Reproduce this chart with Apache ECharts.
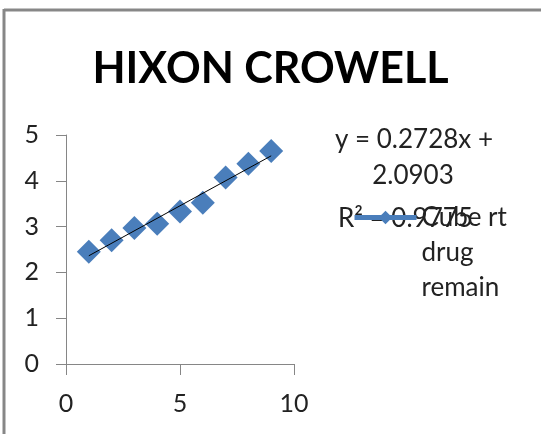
<!DOCTYPE html>
<html>
<head>
<meta charset="utf-8">
<script src="https://cdn.jsdelivr.net/npm/echarts@6/dist/echarts.min.js"></script>
<style>
  html, body { margin: 0; padding: 0; background: #fff; }
  #chart { width: 541px; height: 434px; }
</style>
</head>
<body>
<div id="chart"></div>
<script>
// Hixson-Crowell plot: cube root of drug remaining vs time
const timePoints = [1, 2, 3, 4, 5, 6, 7, 8, 9];
const cubeRootRemain = [2.45, 2.70, 2.97, 3.06, 3.33, 3.52, 4.07, 4.37, 4.65];
const seriesName = 'Cube rt drug remain';

// Linear trendline as reported on the chart
const slope = 0.2728;
const intercept = 2.0903;
const rSquared = 0.9775;
const trendRange = [1, 9];

const xTicks = [0, 5, 10];
const yTicks = [0, 1, 2, 3, 4, 5];

const FONT = 'Lato, "Open Sans", sans-serif';
const AXIS_GREY = '#868686';
const BLUE = '#4a7ebb';
const TEXT = '#222';

const chart = echarts.init(document.getElementById('chart'), null, { renderer: 'canvas' });

chart.setOption({
  animation: false,
  backgroundColor: '#ffffff',
  title: {
    text: 'HIXON CROWELL',
    left: 'center',
    top: 43,
    textStyle: { fontFamily: FONT, fontWeight: 'bold', fontSize: 43, color: '#000' }
  },
  grid: { left: 66, right: 247, top: 135, bottom: 70 },
  xAxis: {
    type: 'value',
    min: xTicks[0],
    max: xTicks[xTicks.length - 1],
    interval: 5,
    splitLine: { show: false },
    axisLine: { lineStyle: { color: AXIS_GREY, width: 1 } },
    axisTick: { show: true, length: 11, lineStyle: { color: AXIS_GREY } },
    axisLabel: { fontFamily: FONT, fontSize: 25, color: TEXT, margin: 27 }
  },
  yAxis: {
    type: 'value',
    min: yTicks[0],
    max: yTicks[yTicks.length - 1],
    interval: 1,
    splitLine: { show: false },
    axisLine: { show: true, lineStyle: { color: AXIS_GREY, width: 1 } },
    axisTick: { show: true, length: 10, lineStyle: { color: AXIS_GREY } },
    axisLabel: { fontFamily: FONT, fontSize: 25, color: TEXT, margin: 27 }
  },
  legend: {
    data: [seriesName],
    left: 352,
    top: 130,
    padding: 0,
    itemWidth: 62,
    itemHeight: 17,
    lineStyle: { width: 5, color: BLUE },
    // two leading blank lines keep the first line level with the icon
    formatter: () => '\n\nCube rt\ndrug\nremain',
    textStyle: { fontFamily: FONT, fontSize: 26, color: TEXT, lineHeight: 35 }
  },
  graphic: [
    // chart frame
    { type: 'line', shape: { x1: 4, y1: 10, x2: 541, y2: 10 }, style: { stroke: '#878787', lineWidth: 3 } },
    { type: 'line', shape: { x1: 4, y1: 9, x2: 4, y2: 434 }, style: { stroke: '#878787', lineWidth: 3 } },
    // trendline equation
    {
      type: 'text', x: 414, y: 140, z: 1,
      style: { text: 'y = ' + slope + 'x +', font: '26px ' + FONT, fill: TEXT, align: 'center', verticalAlign: 'middle' }
    },
    {
      type: 'text', x: 413, y: 176, z: 1,
      style: { text: intercept.toFixed(4), font: '26px ' + FONT, fill: TEXT, align: 'center', verticalAlign: 'middle' }
    },
    {
      type: 'text', x: 338, y: 219, z: 1,
      style: { text: 'R² = ' + rSquared, font: '26px ' + FONT, fill: TEXT, align: 'left', verticalAlign: 'middle' }
    }
  ],
  series: [
    {
      name: seriesName,
      type: 'line',
      data: timePoints.map((t, i) => [t, cubeRootRemain[i]]),
      symbol: 'diamond',
      symbolSize: 24,
      lineStyle: { width: 0, color: BLUE },
      itemStyle: { color: BLUE },
      z: 2
    },
    {
      name: 'trend',
      type: 'line',
      data: trendRange.map(t => [t, slope * t + intercept]),
      symbol: 'none',
      lineStyle: { color: '#000', width: 1 },
      z: 3
    }
  ]
});
</script>
</body>
</html>
